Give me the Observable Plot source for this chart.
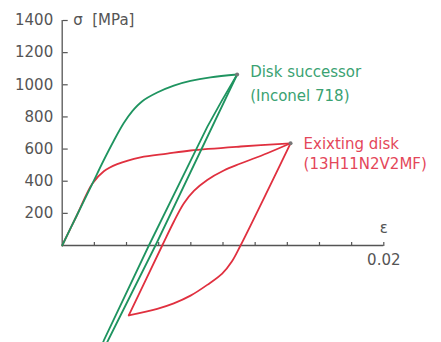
<!DOCTYPE html>
<html><head><meta charset="utf-8">
<script src="https://cdn.jsdelivr.net/npm/d3@7"></script>
<script src="https://cdn.jsdelivr.net/npm/@observablehq/plot@0.6"></script>
<style>html,body{margin:0;padding:0;background:#fff;overflow:hidden}</style>
</head><body><div id="chart"></div>
<script>
// ---- data (strain ε, stress σ [MPa]) ----
const materials = ["Disk successor", "Exixting disk"];
const alloys = ["(Inconel 718)", "(13H11N2V2MF)"];
const xTicks = [0.002, 0.004, 0.006, 0.008, 0.01, 0.012, 0.014, 0.016, 0.018, 0.02];
const yTicks = [200, 400, 600, 800, 1000, 1200, 1400];
const xTickLabels = [0.02];

// Existing disk (13H11N2V2MF)
const redLoading = [[0,0],[0.0009,185],[0.00187,384],[0.00259,462],[0.00342,506],[0.00487,549],[0.00653,572],[0.00798,591],[0.01109,616],[0.0142,636]];
const redUnloading = [[0.0142,636],[0.01109,0],[0.01055,-100],[0.00995,-175],[0.00902,-245],[0.00798,-312],[0.00694,-360],[0.00591,-394],[0.00414,-435]];
const redReloading = [[0.00414,-435],[0.00622,0],[0.00694,148],[0.00756,262],[0.00819,340],[0.00902,408],[0.01005,467],[0.01109,510],[0.01275,574],[0.0142,636]];

// Disk successor (Inconel 718)
const greenLoading = [[0,0],[0.0009,185],[0.00187,384],[0.00259,532],[0.00321,652],[0.00383,762],[0.00435,835],[0.00498,898],[0.00591,952],[0.00694,995],[0.00798,1024],[0.00922,1046],[0.01088,1064]];
const greenUnloading = [[0.01088,1064],[0.0058,0],[0.00288,-585],[0.0011,-940]];
const greenReloading = [[0.0011,-940],[0.00259,-591],[0.00539,0],[0.00903,740],[0.00992,900],[0.01088,1064]];

const peaks = [[0.01088,1064,materials[0]],[0.0142,636,materials[1]]];

const GREEN = "#1f9460", RED = "#e0303f";
const GREEN_TXT = "#3aa272", RED_TXT = "#e4475a";

function rows(points, material, branch) {
  return points.map(([eps, sigma]) => ({eps, sigma, material, branch}));
}
const curved = [
  ...rows(redLoading, materials[1], "load"),
  ...rows(redUnloading, materials[1], "unload"),
  ...rows(redReloading, materials[1], "reload"),
  ...rows(greenLoading, materials[0], "load")
];
const straight = [
  ...rows(greenUnloading, materials[0], "unload"),
  ...rows(greenReloading, materials[0], "reload")
];
const peakRows = peaks.map(([eps, sigma, material]) => ({eps, sigma, material}));

const plot = Plot.plot({
  width: 441,
  height: 342,
  marginLeft: 61.7,
  marginRight: 57.7,
  marginTop: 20,
  marginBottom: 97,
  x: {domain: [0, 0.02]},
  y: {domain: [0, 1400]},
  color: {domain: materials, range: [GREEN, RED]},
  style: {fontFamily: "DejaVu Sans, sans-serif", fontSize: "15px", color: "#555", background: "white", overflow: "hidden"},
  marks: [
    Plot.ruleX([0], {stroke: "#555", strokeWidth: 1.3}),
    Plot.ruleY([0], {stroke: "#555", strokeWidth: 1.3}),
    Plot.axisY({anchor: "left", ticks: yTicks, tickSize: 0, tickPadding: 9, tickFormat: d => String(d), label: null, fill: "#555", fontSize: 15}),
    Plot.axisY({anchor: "right", ticks: yTicks, tickSize: 5, fill: "none", label: null, dx: -321.6, stroke: "#555", strokeWidth: 1.2}),
    Plot.axisX({anchor: "top", ticks: xTicks, tickSize: 4, fill: "none", label: null, dy: 225, stroke: "#555", strokeWidth: 1.2}),
    Plot.line(curved.filter(d => d.material === materials[1]), {x: "eps", y: "sigma", z: "branch", stroke: "material", strokeWidth: 1.8, curve: "catmull-rom"}),
    Plot.line(curved.filter(d => d.material === materials[0]), {x: "eps", y: "sigma", z: "branch", stroke: "material", strokeWidth: 1.8, curve: "catmull-rom"}),
    Plot.line(straight, {x: "eps", y: "sigma", z: "branch", stroke: "material", strokeWidth: 1.8, curve: "linear"}),
    Plot.dot(peakRows, {x: "eps", y: "sigma", r: 2, fill: "#777", stroke: "none"}),
    Plot.text(["σ  [MPa]"], {x: 0, y: 1400, dx: 11, textAnchor: "start", fill: "#555", fontSize: 15}),
    Plot.text(xTickLabels, {x: d => d, y: 0, dy: 15, text: d => String(d), fill: "#555", fontSize: 15}),
    Plot.text(["ε"], {x: xTickLabels[0], y: 0, dy: -17, fill: "#555", fontSize: 15}),
    Plot.text([peakRows[0]], {x: "eps", y: "sigma", text: () => materials[0], dx: 13, dy: -2, textAnchor: "start", fill: GREEN_TXT, fontSize: 15}),
    Plot.text([peakRows[0]], {x: "eps", y: "sigma", text: () => alloys[0], dx: 13, dy: 22, textAnchor: "start", fill: GREEN_TXT, fontSize: 15}),
    Plot.text([peakRows[1]], {x: "eps", y: "sigma", text: () => materials[1], dx: 13, dy: 1, textAnchor: "start", fill: RED_TXT, fontSize: 15}),
    Plot.text([peakRows[1]], {x: "eps", y: "sigma", text: () => alloys[1], dx: 13, dy: 21, textAnchor: "start", fill: RED_TXT, fontSize: 15})
  ]
});
document.getElementById("chart").appendChild(plot);
</script>
</body></html>
